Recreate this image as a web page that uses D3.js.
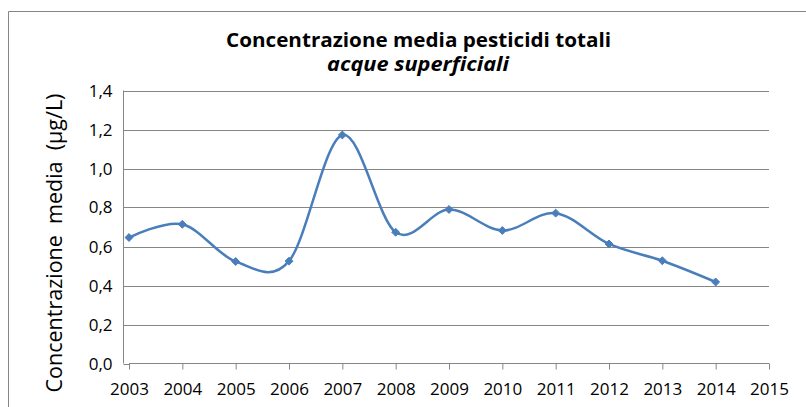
<!DOCTYPE html>
<html><head><meta charset="utf-8">
<script src="https://cdn.jsdelivr.net/npm/d3@7"></script>
<style>
html,body{margin:0;padding:0;background:#fff;}
svg{display:block;}
text{font-family:"Open Sans","Noto Sans",sans-serif;fill:#000;}
</style></head>
<body>
<svg id="c" width="806" height="407"></svg>
<script>
const years = [2003,2004,2005,2006,2007,2008,2009,2010,2011,2012,2013,2014];
const values = [0.646,0.714,0.523,0.525,1.172,0.673,0.790,0.682,0.771,0.613,0.527,0.418];
const xTicks = [2003,2004,2005,2006,2007,2008,2009,2010,2011,2012,2013,2014,2015];
const yTicks = [0,0.2,0.4,0.6,0.8,1.0,1.2,1.4];
const title = "Concentrazione media pesticidi totali";
const subtitle = "acque superficiali";
const yLabel = "Concentrazione  media  (µg/L)";

const svg = d3.select("#c");
const grey = "#868686";
const m = {left:129, right:769, top:90.5, bottom:363.5};

// outer border
svg.append("path").attr("d","M8.5,407 V11.5 H806").attr("fill","none").attr("stroke",grey).attr("stroke-width",1);

const x = d3.scaleLinear().domain([2003,2015]).range([m.left, m.right]);
const y = d3.scaleLinear().domain([0,1.4]).range([m.bottom, m.top]);

// gridlines
svg.append("g").selectAll("line").data(yTicks.slice(1)).join("line")
  .attr("x1",m.left).attr("x2",m.right)
  .attr("y1",d=>Math.round(y(d))+0.5).attr("y2",d=>Math.round(y(d))+0.5)
  .attr("stroke",grey).attr("stroke-width",1);

// y axis
const yAxis = d3.axisLeft(y).tickValues(yTicks).tickSize(6).tickPadding(11)
  .tickFormat(d=>d3.format(".1f")(d).replace(".",","));
const gy = svg.append("g").attr("transform",`translate(${m.left+0.5},0)`).call(yAxis);
gy.select(".domain").attr("stroke",grey).attr("d",`M-6,${m.bottom}V${m.top}`);
gy.selectAll(".tick line").attr("stroke",grey);
gy.selectAll(".tick").attr("transform",d=>`translate(0,${Math.round(y(d))+0.5})`);
gy.selectAll("text").attr("font-size",17).attr("font-family","Open Sans").attr("fill","#000");

// x axis
const xAxis = d3.axisBottom(x).tickValues(xTicks).tickSize(6).tickPadding(13).tickFormat(d3.format("d"));
const gx = svg.append("g").attr("transform",`translate(0,${m.bottom})`).call(xAxis);
gx.select(".domain").attr("stroke",grey).attr("d",`M${m.left},0H${m.right}`);
gx.selectAll(".tick line").attr("stroke",grey);
gx.selectAll("text").attr("font-size",17).attr("font-family","Open Sans").attr("fill","#000");

// line
const data = years.map((yr,i)=>({yr, v:values[i]}));
const line = d3.line().x(d=>x(d.yr)).y(d=>y(d.v)).curve(d3.curveCardinal.tension(0));
svg.append("path").datum(data).attr("d",line)
  .attr("fill","none").attr("stroke","#4A7EBB").attr("stroke-width",2.5).attr("stroke-linejoin","round");

// markers
svg.append("g").selectAll("path").data(data).join("path")
  .attr("transform",d=>`translate(${x(d.yr)},${y(d.v)})`)
  .attr("d",d3.symbol(d3.symbolDiamond2, 40)())
  .attr("fill","#4A7EBB").attr("stroke","#4A7EBB").attr("stroke-width",1);

// titles
svg.append("text").attr("x",418.5).attr("y",47).attr("text-anchor","middle")
  .attr("font-size",19).attr("font-weight","bold")
  .attr("textLength",385).attr("lengthAdjust","spacingAndGlyphs").text(title);
svg.append("text").attr("x",418).attr("y",71).attr("text-anchor","middle")
  .attr("font-size",19).attr("font-weight","bold").attr("font-style","italic")
  .attr("textLength",182).attr("lengthAdjust","spacingAndGlyphs").text(subtitle);

// y label
svg.append("text").attr("transform","translate(62,243) rotate(-90)").attr("text-anchor","middle")
  .attr("font-size",21.5).attr("xml:space","preserve").style("white-space","pre").text(yLabel);
</script>
</body></html>
